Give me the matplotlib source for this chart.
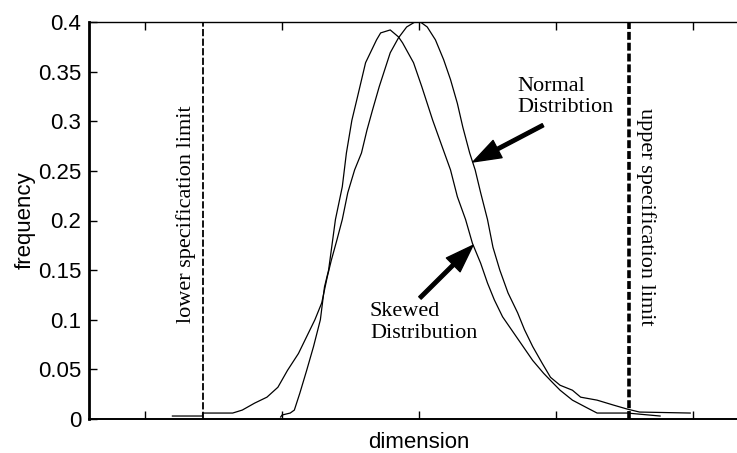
import matplotlib
matplotlib.use("Agg")
import matplotlib.pyplot as plt

# values (x in tick units, y = frequency)
normal_x = [-1.80, -1.58, -1.58, -1.36, -1.29, -1.20, -1.11, -1.03, -0.96, -0.88,
            -0.82, -0.76, -0.71, -0.67, -0.64, -0.60, -0.56, -0.52, -0.47, -0.42,
            -0.38, -0.34, -0.29, -0.25, -0.21, -0.15, -0.09, -0.03, 0.01, 0.06,
            0.12, 0.18, 0.23, 0.28, 0.32, 0.37, 0.41, 0.45, 0.50, 0.54,
            0.59, 0.65, 0.72, 0.77, 0.83, 0.90, 0.96, 1.03, 1.12, 1.18,
            1.30, 1.42, 1.52, 1.61, 1.98]
normal_y = [0.003, 0.003, 0.006, 0.006, 0.009, 0.016, 0.022, 0.032, 0.049, 0.066,
            0.083, 0.100, 0.117, 0.143, 0.160, 0.180, 0.201, 0.228, 0.251, 0.268,
            0.291, 0.311, 0.335, 0.352, 0.369, 0.384, 0.395, 0.400, 0.400, 0.395,
            0.382, 0.362, 0.342, 0.318, 0.294, 0.268, 0.251, 0.228, 0.201, 0.173,
            0.150, 0.127, 0.107, 0.090, 0.073, 0.056, 0.042, 0.034, 0.029, 0.022,
            0.019, 0.014, 0.010, 0.007, 0.006]

skewed_x = [-1.01, -1.00, -0.94, -0.91, -0.87, -0.82, -0.77, -0.72, -0.69, -0.66,
            -0.61, -0.56, -0.53, -0.49, -0.45, -0.39, -0.31, -0.28, -0.21, -0.15,
            -0.12, -0.04, 0.02, 0.10, 0.17, 0.23, 0.28, 0.34, 0.39, 0.45,
            0.50, 0.55, 0.61, 0.69, 0.76, 0.83, 0.91, 0.98, 1.03, 1.12,
            1.23, 1.30, 1.52, 1.76]
skewed_y = [0.002, 0.004, 0.006, 0.009, 0.026, 0.049, 0.073, 0.100, 0.133, 0.150,
            0.201, 0.234, 0.268, 0.301, 0.324, 0.359, 0.382, 0.389, 0.392, 0.385,
            0.379, 0.359, 0.335, 0.301, 0.274, 0.251, 0.224, 0.201, 0.177, 0.157,
            0.137, 0.120, 0.103, 0.087, 0.073, 0.059, 0.046, 0.036, 0.029, 0.019,
            0.011, 0.006, 0.006, 0.003]

lower_limit = -1.577
upper_limit = 1.533
x_ticks = [-2, -1, 0, 1, 2]
y_ticks = [0, 0.05, 0.1, 0.15, 0.2, 0.25, 0.3, 0.35, 0.4]
y_labels = ['0', '0.05', '0.1', '0.15', '0.2', '0.25', '0.3', '0.35', '0.4']

plt.rcParams['font.family'] = ['Liberation Sans', 'DejaVu Sans']
serif = ['Liberation Serif', 'DejaVu Serif']

fig = plt.figure(figsize=(7.37, 4.53), dpi=100)
ax = fig.add_axes([89 / 737, 34 / 453, 660 / 737, 397 / 453])

ax.plot(normal_x, normal_y, color='black', lw=0.9)
ax.plot(skewed_x, skewed_y, color='black', lw=0.9)

ax.axvline(lower_limit, color='black', lw=1.3, ls=(0, (4, 1.3)))
ax.axvline(upper_limit, color='black', lw=2.6, ls=(0, (2.2, 0.8)))

ax.text(-1.70, 0.206, 'lower specification limit', rotation=90,
        ha='center', va='center', fontsize=16, family=serif)
ax.text(1.655, 0.204, 'upper specification limit', rotation=-90,
        ha='center', va='center', fontsize=16, family=serif)

# arrows pointing at the two curves
ax.annotate('', xy=(0.394, 0.259), xytext=(0.905, 0.296),
            arrowprops=dict(facecolor='black', edgecolor='black', width=2.5,
                            headwidth=14, headlength=20, shrink=0))
ax.annotate('', xy=(0.394, 0.175), xytext=(0.007, 0.122),
            arrowprops=dict(facecolor='black', edgecolor='black', width=2.5,
                            headwidth=14, headlength=20, shrink=0))
ax.text(0.715, 0.345, 'Normal\nDistribtion', ha='left', va='top',
        fontsize=16, family=serif, linespacing=1.2)
ax.text(-0.358, 0.118, 'Skewed\nDistribution', ha='left', va='top',
        fontsize=16, family=serif, linespacing=1.2)

ax.set_xlim(-2.409, 2.409)
ax.set_ylim(0, 0.4)
ax.set_xticks(x_ticks)
ax.set_xticklabels([])
ax.set_yticks(y_ticks)
ax.set_yticklabels(y_labels)
ax.tick_params(direction='in', length=6, width=1, top=True, right=True,
               labelsize=16, pad=5.5)
ax.spines['left'].set_linewidth(2)
ax.spines['bottom'].set_linewidth(1.4)
ax.spines['top'].set_linewidth(1.0)

ax.set_xlabel('dimension', fontsize=16, labelpad=4)
ax.set_ylabel('frequency', fontsize=16, labelpad=2)

fig.savefig('out.png', dpi=100)
